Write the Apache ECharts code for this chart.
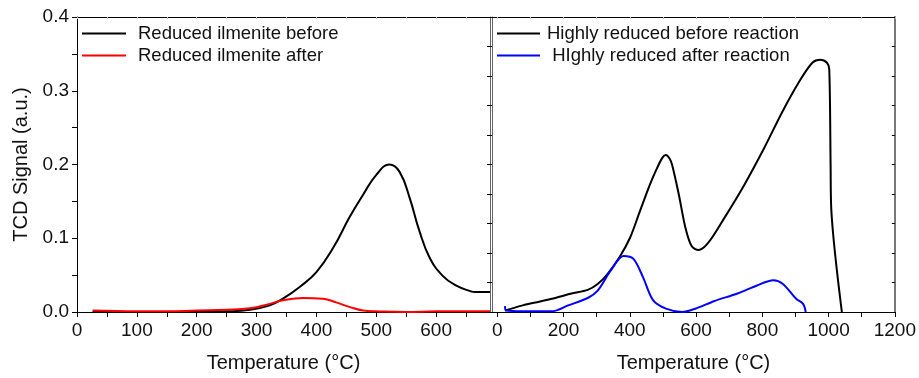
<!DOCTYPE html>
<html>
<head>
<meta charset="utf-8">
<script src="https://cdn.jsdelivr.net/npm/echarts@6/dist/echarts.min.js"></script>
<style>
html,body{margin:0;padding:0;background:#fff;}
#chart{width:919px;height:378px;}
</style>
</head>
<body>
<div id="chart"></div>
<script>
// Left panel: Reduced ilmenite (temperature °C, TCD signal a.u.)
var leftBeforeT = [26, 100, 200, 250, 289, 322, 344, 372, 400, 428, 455, 478, 500, 522, 539, 556, 572, 589, 611, 633, 658, 665, 690];
var leftBeforeV = [0.0, 0.0, 0.0005, 0.001, 0.003, 0.009, 0.018, 0.034, 0.054, 0.087, 0.128, 0.159, 0.186, 0.200, 0.190, 0.154, 0.110, 0.074, 0.049, 0.036, 0.028, 0.027, 0.027];
var leftAfterT = [26, 100, 150, 200, 250, 289, 322, 344, 378, 411, 433, 455, 478, 500, 550, 600, 690];
var leftAfterV = [0.002, 0.001, 0.001, 0.002, 0.003, 0.005, 0.011, 0.016, 0.019, 0.018, 0.013, 0.007, 0.002, 0.001, 0.0, 0.001, 0.001];

// Right panel: Highly reduced
var rightBeforeT = [23, 77, 126, 175, 224, 273, 303, 332, 371, 401, 430, 460, 479, 498, 509, 520, 528, 548, 568, 587, 607, 637, 686, 745, 804, 862, 912, 951, 975, 995, 1002, 1006, 1008, 1040];
var rightBeforeV = [0.002, 0.009, 0.014, 0.019, 0.025, 0.030, 0.038, 0.051, 0.076, 0.101, 0.136, 0.172, 0.192, 0.209, 0.213, 0.208, 0.199, 0.159, 0.114, 0.089, 0.084, 0.094, 0.128, 0.172, 0.221, 0.273, 0.313, 0.338, 0.342, 0.338, 0.329, 0.20, 0.14, 0.0];
var rightAfterT = [23, 27, 77, 165, 214, 273, 303, 342, 381, 411, 440, 470, 509, 558, 597, 656, 725, 784, 833, 862, 902, 923, 931];
var rightAfterV = [0.008, 0.002, 0.001, 0.001, 0.009, 0.019, 0.029, 0.056, 0.076, 0.072, 0.047, 0.016, 0.0045, 0.0, 0.0045, 0.015, 0.025, 0.036, 0.043, 0.038, 0.018, 0.011, 0.0];

var leftTickLabels = [0, 100, 200, 300, 400, 500, 600];
var rightTickLabels = [0, 200, 400, 600, 800, 1000, 1200];
var yTickLabels = [0, 0.1, 0.2, 0.3, 0.4];

var names = ['Reduced ilmenite before', 'Reduced ilmenite after', 'Highly reduced before reaction', ' HIghly reduced after reaction'];

function zip(a, b) { return a.map(function (x, i) { return [x, b[i]]; }); }
function range(a, b, s) { var r = []; for (var v = a; v <= b + 1e-9; v += s) r.push(Math.round(v * 1000) / 1000); return r; }

var FONT = 'Liberation Sans, Arial, sans-serif';
var TICKFS = 19, TITLEFS = 20, LEGFS = 18.5;

var chart = echarts.init(document.getElementById('chart'), null, { renderer: 'canvas' });
chart.setOption({
  animation: false,
  backgroundColor: '#fff',
  textStyle: { fontFamily: FONT },
  grid: [
    { left: 77, top: 17, width: 413, height: 298 },
    { left: 492, top: 17, width: 413, height: 298 }
  ],
  legend: [
    {
      left: 82, top: 24, orient: 'vertical', icon: 'rect', itemWidth: 44, itemHeight: 2, itemGap: 3,
      padding: 0,
      data: [names[0], names[1]],
      textStyle: { fontFamily: FONT, fontSize: LEGFS, color: '#111', lineHeight: 19, padding: [0, 0, 0, 7] }
    },
    {
      left: 497, top: 24, orient: 'vertical', icon: 'rect', itemWidth: 43, itemHeight: 2, itemGap: 3,
      padding: 0,
      data: [names[2], names[3]],
      textStyle: { fontFamily: FONT, fontSize: LEGFS, color: '#111', lineHeight: 19, padding: [0, 0, 0, 2] }
    }
  ],
  xAxis: [
    {
      gridIndex: 0, type: 'value', min: 0, max: 690, position: 'bottom',
      name: 'Temperature (°C)', nameLocation: 'middle', nameGap: 41,
      nameTextStyle: { fontFamily: FONT, fontSize: TITLEFS, color: '#111' },
      axisLine: { show: true, onZero: false, lineStyle: { color: '#000', width: 1 } },
      axisTick: { show: true, length: 5, customValues: range(0, 650, 50), lineStyle: { color: '#000' } },
      axisLabel: { customValues: leftTickLabels, margin: 9, fontFamily: FONT, fontSize: TICKFS, color: '#111',
        formatter: function (v) { return String(v); } },
      splitLine: { show: false }
    },
    {
      gridIndex: 0, type: 'value', min: 0, max: 690, position: 'top',
      axisLine: { show: true, onZero: false, lineStyle: { color: '#000', width: 1 } },
      axisTick: { show: true, inside: true, length: 2, customValues: range(0, 650, 50), lineStyle: { color: '#bbb' } },
      axisLabel: { show: false }, splitLine: { show: false }
    },
    {
      gridIndex: 1, type: 'value', min: -16, max: 1200, position: 'bottom',
      name: 'Temperature (°C)', nameLocation: 'middle', nameGap: 41,
      nameTextStyle: { fontFamily: FONT, fontSize: TITLEFS, color: '#111' },
      axisLine: { show: true, onZero: false, lineStyle: { color: '#000', width: 1 } },
      axisTick: { show: true, length: 5, customValues: range(0, 1200, 100), lineStyle: { color: '#000' } },
      axisLabel: { customValues: rightTickLabels, margin: 9, fontFamily: FONT, fontSize: TICKFS, color: '#111',
        formatter: function (v) { return String(v); } },
      splitLine: { show: false }
    },
    {
      gridIndex: 1, type: 'value', min: -16, max: 1200, position: 'top',
      axisLine: { show: true, onZero: false, lineStyle: { color: '#000', width: 1 } },
      axisTick: { show: true, inside: true, length: 2, customValues: range(0, 1200, 100), lineStyle: { color: '#bbb' } },
      axisLabel: { show: false }, splitLine: { show: false }
    }
  ],
  yAxis: [
    {
      gridIndex: 0, type: 'value', min: 0, max: 0.4, position: 'left',
      name: 'TCD Signal (a.u.)', nameLocation: 'middle', nameGap: 46,
      nameTextStyle: { fontFamily: FONT, fontSize: TITLEFS, color: '#111' },
      axisLine: { show: true, onZero: false, lineStyle: { color: '#000', width: 1 } },
      axisTick: { show: true, length: 5, customValues: range(0, 0.4, 0.05), lineStyle: { color: '#000' } },
      axisLabel: { customValues: yTickLabels, margin: 8, fontFamily: FONT, fontSize: TICKFS, color: '#111',
        formatter: function (v) { return v.toFixed(1); } },
      splitLine: { show: false }
    },
    {
      gridIndex: 0, type: 'value', min: 0, max: 0.4, position: 'right',
      axisLine: { show: true, onZero: false, lineStyle: { color: '#666', width: 1 } },
      axisTick: { show: false }, axisLabel: { show: false }, splitLine: { show: false }
    },
    {
      gridIndex: 1, type: 'value', min: 0, max: 0.4, interval: 0.04, position: 'left',
      axisLine: { show: true, onZero: false, lineStyle: { color: '#666', width: 1 } },
      axisTick: { show: true, length: 5, lineStyle: { color: '#000' } },
      axisLabel: { show: false }, splitLine: { show: false }
    },
    {
      gridIndex: 1, type: 'value', min: 0, max: 0.4, interval: 0.04, position: 'right',
      axisLine: { show: true, onZero: false, lineStyle: { color: '#777', width: 2 } },
      axisTick: { show: true, inside: true, length: 3, lineStyle: { color: '#000' } },
      axisLabel: { show: false }, splitLine: { show: false }
    }
  ],
  series: [
    { name: names[0], type: 'line', xAxisIndex: 0, yAxisIndex: 0, data: zip(leftBeforeT, leftBeforeV),
      smooth: 0.45, showSymbol: false, symbol: 'none', lineStyle: { color: '#000', width: 2 }, itemStyle: { color: '#000' } },
    { name: names[1], type: 'line', xAxisIndex: 0, yAxisIndex: 0, data: zip(leftAfterT, leftAfterV),
      smooth: 0.45, showSymbol: false, symbol: 'none', lineStyle: { color: '#ff0000', width: 2 }, itemStyle: { color: '#ff0000' } },
    { name: names[2], type: 'line', xAxisIndex: 2, yAxisIndex: 2, data: zip(rightBeforeT, rightBeforeV),
      smooth: 0.3, showSymbol: false, symbol: 'none', lineStyle: { color: '#000', width: 2 }, itemStyle: { color: '#000' } },
    { name: names[3], type: 'line', xAxisIndex: 2, yAxisIndex: 2, data: zip(rightAfterT, rightAfterV),
      smooth: 0.3, showSymbol: false, symbol: 'none', lineStyle: { color: '#0000ff', width: 2 }, itemStyle: { color: '#0000ff' } }
  ]
});
</script>
</body>
</html>
